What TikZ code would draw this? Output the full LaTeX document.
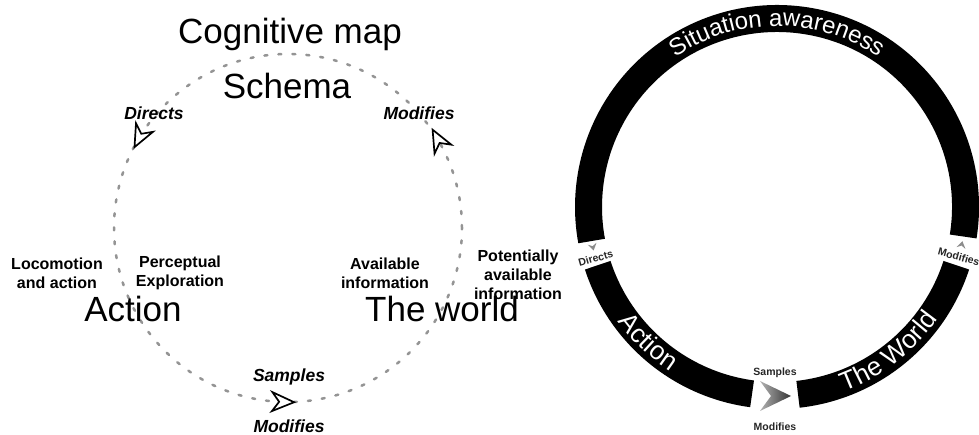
\documentclass[tikz,border=0pt]{standalone}
\usepackage{fontspec}
\setmainfont{Liberation Sans}
\usetikzlibrary{decorations.text}

\tikzset{
  bigword/.style={font=\fontsize{35}{40}\selectfont, inner sep=0pt, anchor=base},
  note/.style={font=\bfseries\fontsize{16}{19}\selectfont, align=center, inner sep=0pt},
  verb/.style={font=\bfseries\itshape\fontsize{17.5}{20}\selectfont, inner sep=0pt},
  tiny/.style={font=\bfseries\fontsize{10.5}{12}\selectfont, text=black!85, inner sep=0pt},
  loop/.style={draw=black!42, line width=2.5pt, line cap=round, dash pattern=on 3pt off 11pt},
  ring/.style={draw=black, line width=27pt, line cap=butt},
  chevron/.pic={\draw[line width=1.7pt, fill=white, line join=miter]
      (11,0) -- (-11,9.5) -- (-4,0) -- (-11,-9.5) -- cycle;},
  minichev/.pic={\fill[black!45] (3.5,0) -- (-3.5,4.5) -- (-1,0) -- (-3.5,-4.5) -- cycle;},
}

\begin{document}
\begin{tikzpicture}[x=1pt, y=1pt]
\useasboundingbox (0,0) rectangle (979,435);

% ---------------- perceptual cycle ----------------
\coordinate (loopc) at (288,207);
\draw[loop] (loopc) circle[radius=174];

\node[bigword] (cogmap) at (290,391) {Cognitive map};
\node[bigword] (schema) at (287,336) {Schema};
\node[bigword] (action) at (133,113) {Action};
\node[bigword] (world)  at (442,113) {The world};

\node[note] (loco)  at (57,162)  {Locomotion\\and action};
\node[note] (perc)  at (180,162) {Perceptual\\Exploration};
\node[note] (avail) at (385,162) {Available\\information};
\node[note] (pot)   at (518,160) {Potentially\\available\\information};

\node[verb] (directs)  at (154,322) {Directs};
\node[verb] (modtop)   at (419,322) {Modifies};
\node[verb] (samples)  at (289,58)  {Samples};
\node[verb] (modbot)   at (289,9)   {Modifies};

% arrowheads along the loop (counter-clockwise flow)
\pic[rotate=243] at ([shift={(148.6:174)}]loopc) {chevron};
\pic[rotate=118] at ([shift={(30.6:174)}]loopc)  {chevron};
\pic[rotate=358.4] at ([shift={(268.4:174)}]loopc) {chevron};

% ---------------- situation awareness ring ----------------
\coordinate (ringc) at (777,228);
\draw[ring] ([shift={(-9:188.5)}]ringc)   arc[start angle=-9,    end angle=190.4, radius=188.5];
\draw[ring] ([shift={(198:188.5)}]ringc)  arc[start angle=198,   end angle=262.4, radius=188.5];
\draw[ring] ([shift={(276.4:188.5)}]ringc) arc[start angle=276.4, end angle=342,   radius=188.5];

\path[decorate, decoration={text along path, text align=center, text color=white,
      text={|\fontsize{24}{24}\selectfont|Situation awareness}}]
  ([shift={(130:181)}]ringc) arc[start angle=130, end angle=50, radius=181];
\path[decorate, decoration={text along path, text align=center, text color=white,
      text={|\fontsize{26}{26}\selectfont|Action}}]
  ([shift={(196.4:196)}]ringc) arc[start angle=196.4, end angle=256.4, radius=196];
\path[decorate, decoration={text along path, text align=center, text color=white,
      text={|\fontsize{26}{26}\selectfont|The World}}]
  ([shift={(277.7:196)}]ringc) arc[start angle=277.7, end angle=337.7, radius=196];

% labels in the gaps
\node[tiny, rotate=15.8]  (rdirects) at ([shift={(195.8:188.5)}]ringc) {Directs};
\node[tiny, rotate=-15.3] (rmod)     at ([shift={(-15.3:188.5)}]ringc) {Modifies};
\pic[rotate=282.3] at ([shift={(192.3:188.5)}]ringc) {minichev};
\pic[rotate=78.5]  at ([shift={(-11.5:188.5)}]ringc) {minichev};

\node[tiny] (rsamples) at (775,62) {Samples};
\node[tiny] (rmodbot)  at (775,8)  {Modifies};
\shade[left color=black!30, right color=black!80]
  (791,39) -- (760,54) -- (771,39) -- (760,24) -- cycle;
\end{tikzpicture}
\end{document}
